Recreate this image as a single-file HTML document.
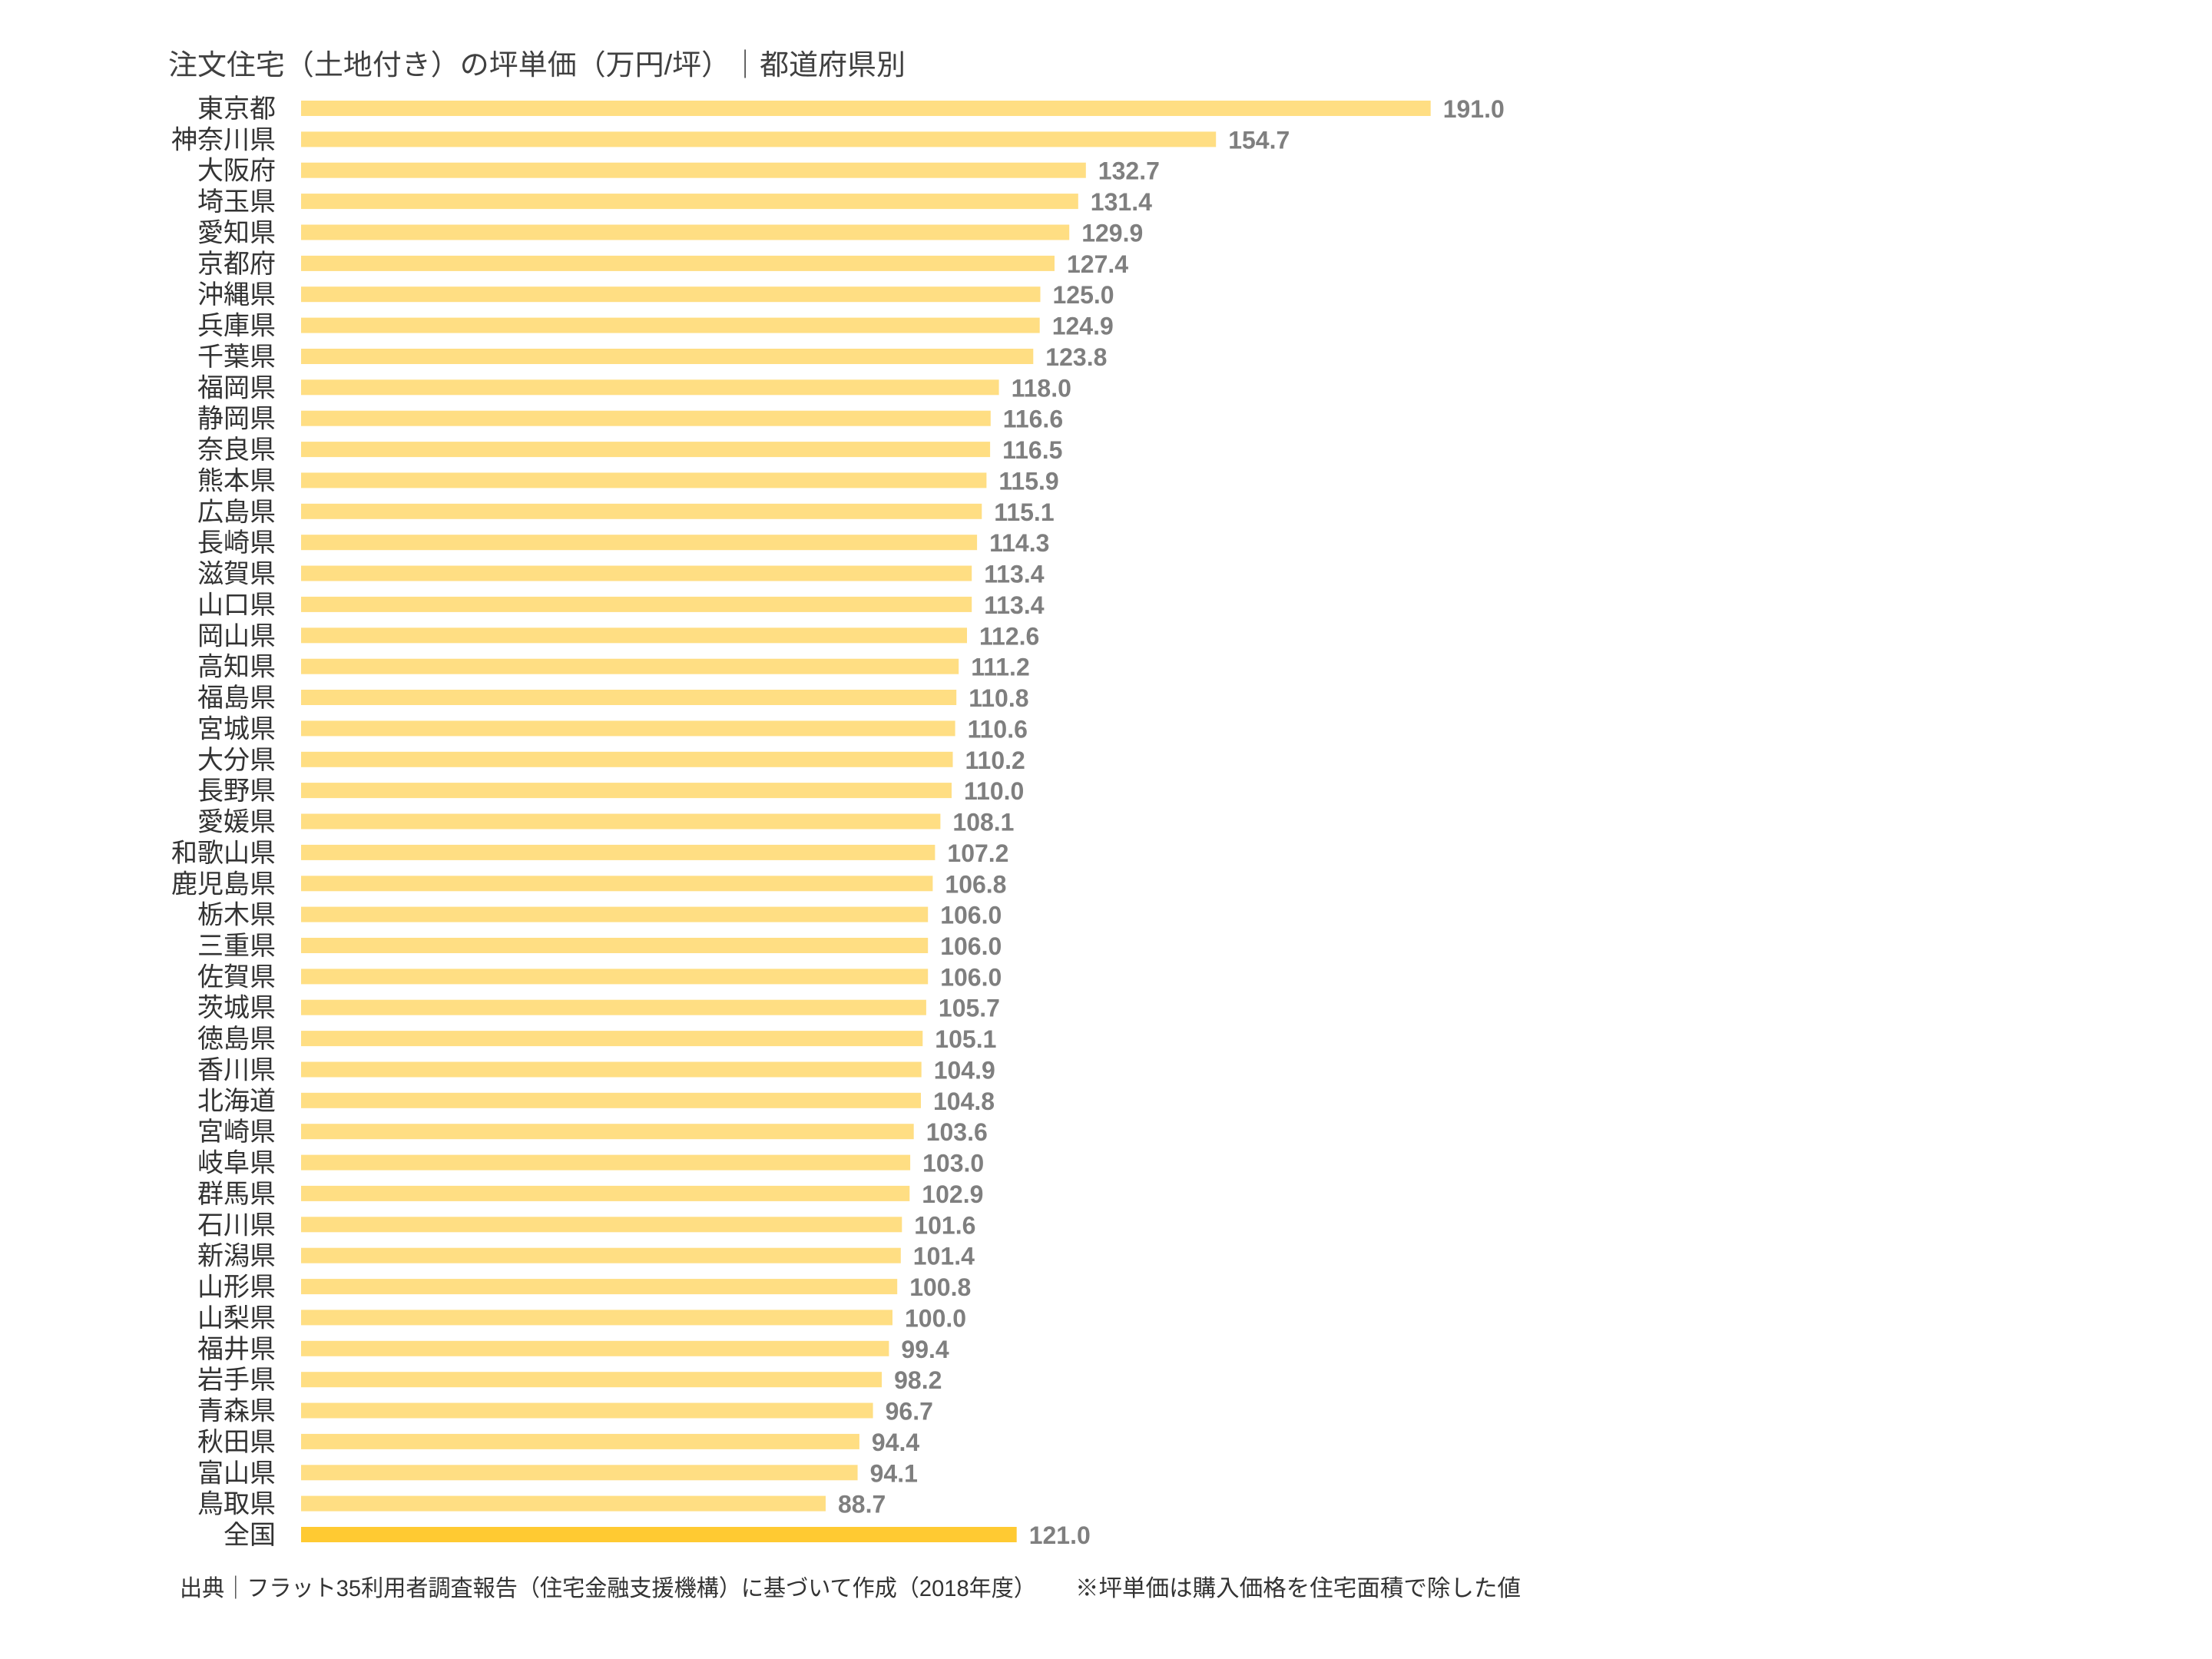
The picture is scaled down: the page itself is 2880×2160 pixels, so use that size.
<!DOCTYPE html>
<html><head><meta charset="utf-8"><style>
html,body{margin:0;padding:0;background:#fff;}
svg{display:block;}
.l{font-family:"Liberation Sans","Noto Sans CJK JP",sans-serif;font-size:34px;fill:#333;}
.v{font-family:"Liberation Sans",sans-serif;font-size:32px;font-weight:bold;fill:#7f7f7f;}
</style></head><body>
<svg id="s" width="2880" height="2160" xmlns="http://www.w3.org/2000/svg">
<text x="219" y="97" class="l" style="font-size:37px;fill:#404040" textLength="960" lengthAdjust="spacingAndGlyphs">注文住宅（土地付き）の坪単価（万円/坪）｜都道府県別</text>
<g id="rows"></g>
<text x="234" y="2078" class="l" style="font-size:30px" textLength="1115" lengthAdjust="spacingAndGlyphs">出典｜フラット35利用者調査報告（住宅金融支援機構）に基づいて作成（2018年度）</text>
<text x="1400" y="2078" class="l" style="font-size:30px" textLength="580" lengthAdjust="spacingAndGlyphs">※坪単価は購入価格を住宅面積で除した値</text>
</svg>
<script>
var d=[["東京都",191.0],["神奈川県",154.7],["大阪府",132.7],["埼玉県",131.4],["愛知県",129.9],["京都府",127.4],["沖縄県",125.0],["兵庫県",124.9],["千葉県",123.8],["福岡県",118.0],["静岡県",116.6],["奈良県",116.5],["熊本県",115.9],["広島県",115.1],["長崎県",114.3],["滋賀県",113.4],["山口県",113.4],["岡山県",112.6],["高知県",111.2],["福島県",110.8],["宮城県",110.6],["大分県",110.2],["長野県",110.0],["愛媛県",108.1],["和歌山県",107.2],["鹿児島県",106.8],["栃木県",106.0],["三重県",106.0],["佐賀県",106.0],["茨城県",105.7],["徳島県",105.1],["香川県",104.9],["北海道",104.8],["宮崎県",103.6],["岐阜県",103.0],["群馬県",102.9],["石川県",101.6],["新潟県",101.4],["山形県",100.8],["山梨県",100.0],["福井県",99.4],["岩手県",98.2],["青森県",96.7],["秋田県",94.4],["富山県",94.1],["鳥取県",88.7],["全国",121.0]];
var g=document.getElementById("rows"),h="";
d.forEach(function(r,i){
 var top=131+i*40.37,w=r[1]*7.7,c=top+10;
 h+='<rect x="392" y="'+top.toFixed(1)+'" width="'+w.toFixed(1)+'" height="20" fill="'+(i==46?'#ffca32':'#ffde83')+'"/>';
 h+='<text x="359" y="'+(c+12).toFixed(1)+'" class="l" text-anchor="end">'+r[0]+'</text>';
 h+='<text x="'+(392+w+16).toFixed(1)+'" y="'+(c+12).toFixed(1)+'" class="v">'+r[1].toFixed(1)+'</text>';
});
g.innerHTML=h;
</script>
</body></html>
